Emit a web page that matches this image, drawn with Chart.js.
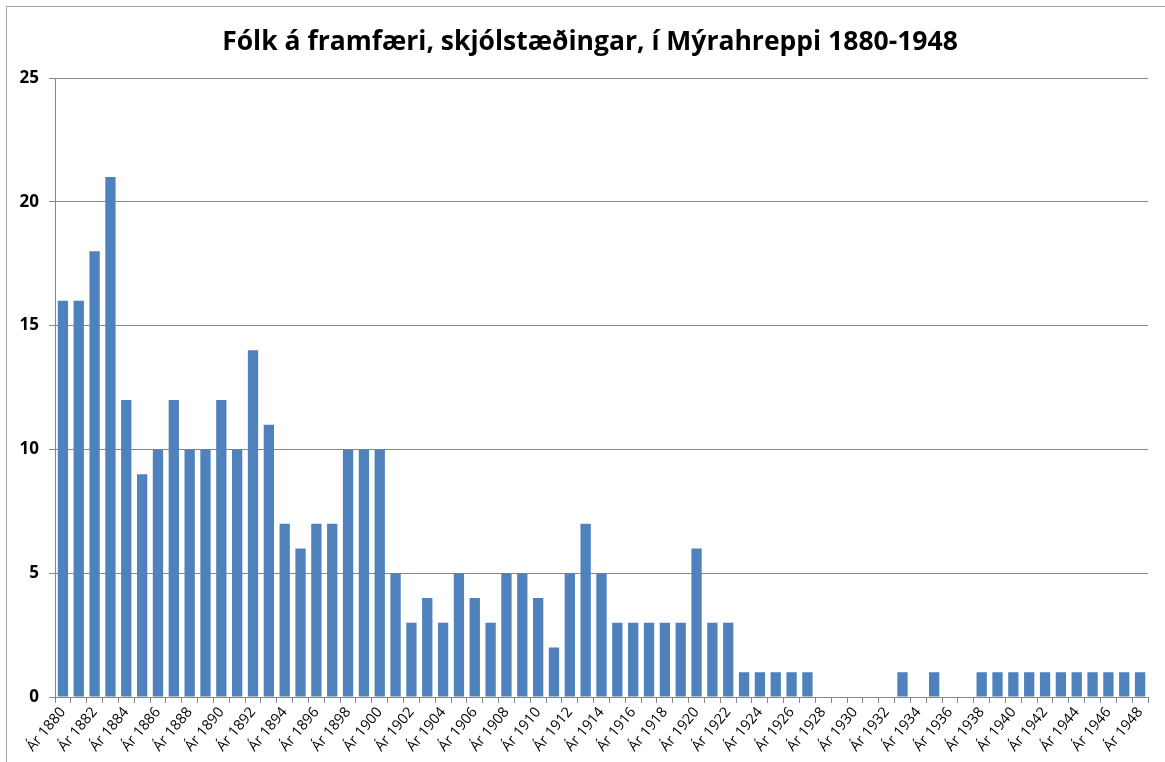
<!DOCTYPE html>
<html>
<head>
<meta charset="utf-8">
<script src="https://cdn.jsdelivr.net/npm/chart.js@4"></script>
<style>
  body { margin: 0; background: #fff; }
  #wrap { position: relative; width: 1165px; height: 762px; }
  #frame { position: absolute; left: 6px; top: 6px; width: 1200px; height: 800px;
           border-top: 1.5px solid #a6a6a6; border-left: 1.5px solid #a6a6a6; }
  #title { position: absolute; left: 190px; width: 800px; top: 21px; text-align: center;
           font: bold 26.5px 'Open Sans'; color: #000; line-height: 38px; white-space: nowrap; }
  canvas { position: absolute; left: 0; top: 0; }
</style>
</head>
<body>
<div id="wrap">
  <div id="frame"></div>
  <canvas id="myChart" width="1165" height="762"></canvas>
  <div id="title">Fólk á framfæri, skjólstæðingar, í Mýrahreppi 1880-1948</div>
</div>
<script>
var years = [];
for (var yr = 1880; yr <= 1948; yr++) years.push("Ár " + yr);

var people = [
  16, 16, 18, 21, 12, 9, 10, 12, 10, 10,   // 1880-1889
  12, 10, 14, 11, 7, 6, 7, 7, 10, 10,      // 1890-1899
  10, 5, 3, 4, 3, 5, 4, 3, 5, 5,           // 1900-1909
  4, 2, 5, 7, 5, 3, 3, 3, 3, 3,            // 1910-1919
  6, 3, 3, 1, 1, 1, 1, 1, 0, 0,            // 1920-1929
  0, 0, 0, 1, 0, 1, 0, 0, 1, 1,            // 1930-1939
  1, 1, 1, 1, 1, 1, 1, 1, 1                // 1940-1948
];

var yTicks = [0, 5, 10, 15, 20, 25];

const ctx = document.getElementById('myChart');

new Chart(ctx, {
  type: 'bar',
  data: {
    labels: years,
    datasets: [{
      data: people,
      backgroundColor: '#4f81bd',
      barPercentage: 0.65,
      categoryPercentage: 1
    }]
  },
  options: {
    responsive: false,
    animation: false,
    layout: { padding: { left: 0, right: 17, top: 78, bottom: 0 } },
    plugins: {
      legend: { display: false },
      tooltip: { enabled: false },
      title: { display: false }
    },
    scales: {
      x: {
        grid: { offset: true, drawOnChartArea: false, color: '#868686', tickLength: 6 },
        border: { color: '#868686' },
        ticks: {
          autoSkip: false,
          maxRotation: 50,
          minRotation: 50,
          color: '#000',
          font: { family: 'Open Sans', size: 14.5 },
          padding: 1,
          callback: function (v, i) { return i % 2 === 0 ? this.getLabelForValue(v) : ''; }
        },
        afterFit: function (s) { s.height = 65; }
      },
      y: {
        min: 0,
        max: 25,
        afterBuildTicks: function (s) { s.ticks = yTicks.map(function (v) { return { value: v }; }); },
        grid: { color: '#868686', tickLength: 6 },
        border: { color: '#868686' },
        ticks: {
          color: '#000',
          font: { family: 'Open Sans', size: 17, weight: 'bold' },
          padding: 10
        },
        afterFit: function (s) { s.width = 55; }
      }
    }
  }
});
</script>
</body>
</html>
